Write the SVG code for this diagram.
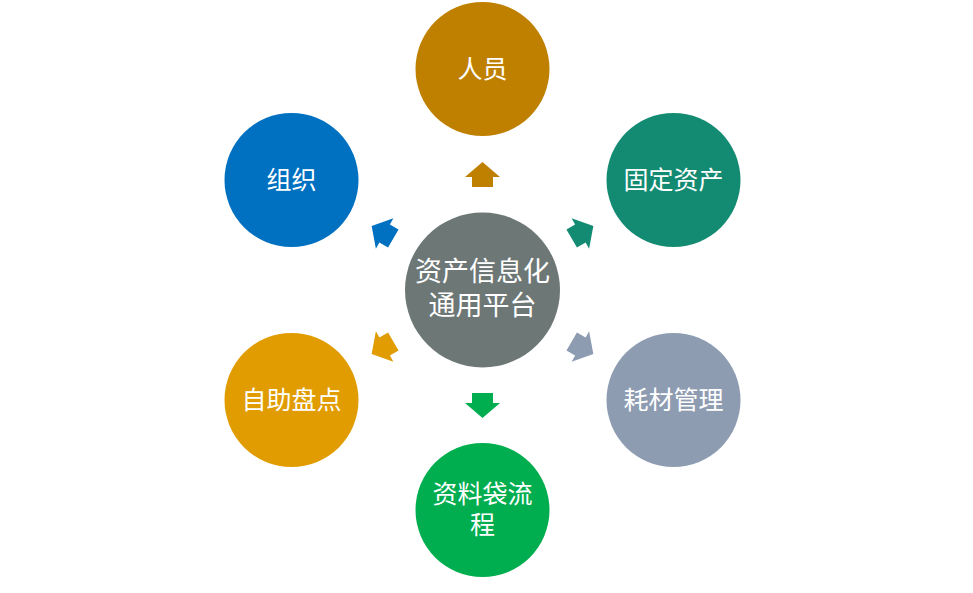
<svg xmlns="http://www.w3.org/2000/svg" width="973" height="593" viewBox="0 0 973 593">
<defs>
<style>
text{font-family:"Noto Sans CJK SC","Liberation Sans",sans-serif;fill:#fff;text-anchor:middle;font-size:25px}
.c{font-size:27px}
</style>
<path id="arr" d="M0,-128 L17.5,-113 L10.5,-113 L10.5,-103 L-10.5,-103 L-10.5,-113 L-17.5,-113 Z"/>
</defs>
<rect width="973" height="593" fill="#fff"/>
<g id="connectors" transform="translate(482.5,290)">
<use href="#arr" fill="#bf8000"/>
<use href="#arr" fill="#138a72" transform="rotate(60)"/>
<use href="#arr" fill="#8e9cb2" transform="rotate(120)"/>
<use href="#arr" fill="#00ad4f" transform="rotate(180)"/>
<use href="#arr" fill="#e09c00" transform="rotate(240)"/>
<use href="#arr" fill="#0070c0" transform="rotate(300)"/>
</g>
<g id="center"><circle cx="482.5" cy="290" r="77.5" fill="#6d7776"/><text class="c" x="482.5" y="281">资产信息化</text><text class="c" x="482.5" y="315">通用平台</text></g>
<g id="n1"><circle cx="482.5" cy="69" r="67" fill="#bf8000"/><text x="482.5" y="78">人员</text></g>
<g id="n2"><circle cx="673.5" cy="180" r="67" fill="#138a72"/><text x="673.5" y="189">固定资产</text></g>
<g id="n3"><circle cx="673.5" cy="400" r="67" fill="#8e9cb2"/><text x="673.5" y="409">耗材管理</text></g>
<g id="n4"><circle cx="482.5" cy="510" r="67" fill="#00ad4f"/><text x="482.5" y="503">资料袋流</text><text x="482.5" y="534">程</text></g>
<g id="n5"><circle cx="291.5" cy="400" r="67" fill="#e09c00"/><text x="291.5" y="409">自助盘点</text></g>
<g id="n6"><circle cx="291.5" cy="180" r="67" fill="#0070c0"/><text x="291.5" y="189">组织</text></g>
</svg>
